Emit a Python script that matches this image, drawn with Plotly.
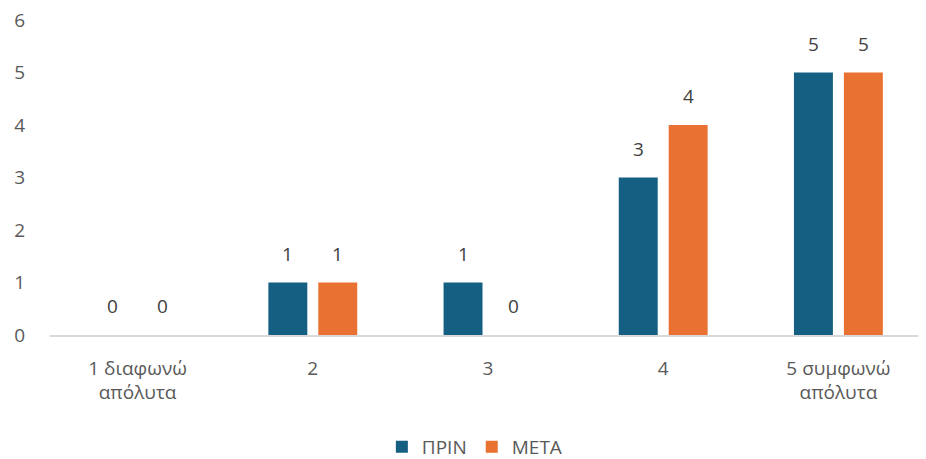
import plotly.graph_objects as go

categories = ["1 διαφωνώ<br>απόλυτα", "2", "3", "4", "5 συμφωνώ<br>απόλυτα"]
prin = [0, 1, 1, 3, 5]
meta = [0, 1, 0, 4, 5]
series_names = ["ΠΡΙΝ", "ΜΕΤΑ"]
colors = ["#156082", "#E97132"]
label_shift = [-25, 25]

font_family = "Open Sans, Inter, sans-serif"
fs = 19
fig = go.Figure()
for name, vals, col, sh in zip(series_names, [prin, meta], colors, label_shift):
    fig.add_trace(go.Bar(
        x=categories, y=vals, name=name,
        marker=dict(color=col, line=dict(width=0)),
    ))
    for i, v in enumerate(vals):
        fig.add_annotation(x=i, y=v, text=str(v), showarrow=False,
                           xshift=sh, yshift=14, yanchor="bottom",
                           font=dict(size=fs, color="#404040", family=font_family))

fig.update_layout(
    width=926, height=459,
    margin=dict(l=42, r=8, t=12, b=132, autoexpand=False),
    paper_bgcolor="white", plot_bgcolor="white",
    barmode="group", bargap=0.43, bargroupgap=0.22,
    font=dict(family=font_family, size=fs, color="#595959"),
    showlegend=True,
    legend=dict(orientation="h", x=0.485, xanchor="center", y=-0.295, yanchor="top",
                font=dict(size=fs, color="#595959"), itemwidth=30, traceorder="normal"),
    xaxis=dict(showline=True, linecolor="#D9D9D9", linewidth=1.5, ticks="",
               tickfont=dict(size=fs, color="#595959"), showgrid=False,
               ticklabelstandoff=15, automargin=False, ticklabeloverflow="allow"),
    yaxis=dict(range=[0, 6], dtick=1, showgrid=False, zeroline=False, showline=False,
               tickfont=dict(size=fs, color="#595959"), ticklabelstandoff=24,
               automargin=False, ticklabeloverflow="allow"),
)
fig.write_html("out.html")
